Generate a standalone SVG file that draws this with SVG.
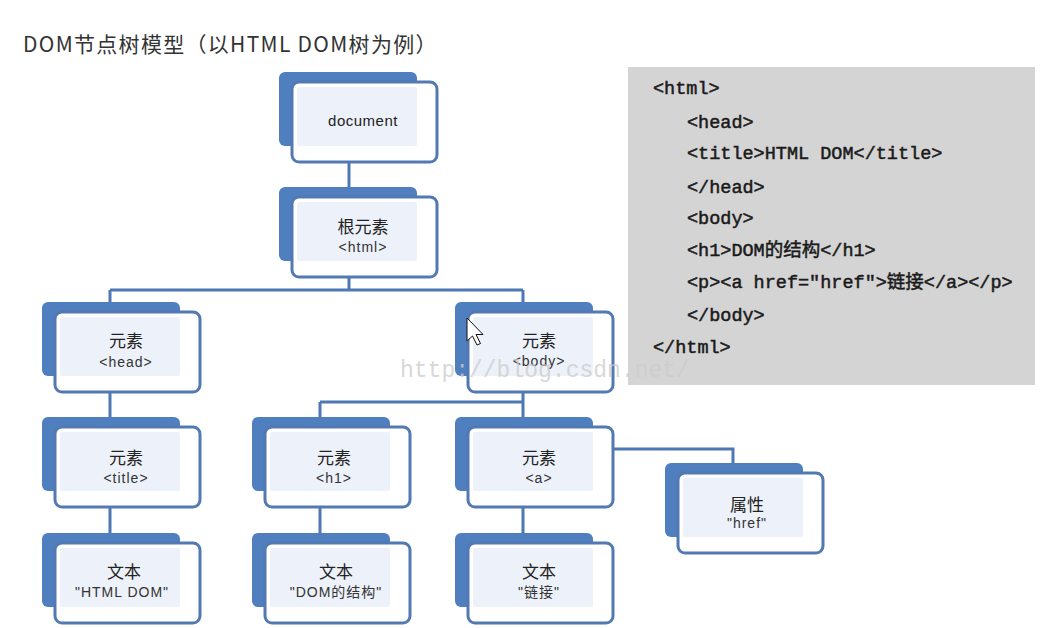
<svg xmlns="http://www.w3.org/2000/svg" width="1060" height="628" viewBox="0 0 1060 628">
<style>
.back{fill:#4f7fbe}
.front{fill:#ffffff;stroke:#5279b2;stroke-width:3}
.inner{fill:#edf1f9}
.conn{fill:none;stroke:#4e78b3;stroke-width:3}
.t1{font-family:"Noto Sans CJK SC","Liberation Sans",sans-serif;font-size:17px;fill:#222;text-anchor:middle}
.t2{font-family:"Liberation Sans","Noto Sans CJK SC",sans-serif;font-size:14px;letter-spacing:1px;fill:#333;text-anchor:middle}
.code{font-family:"Liberation Mono","Noto Sans CJK SC",monospace;font-size:18.5px;fill:#1a1a1a;stroke:#1a1a1a;stroke-width:0.5}
</style>
<defs>
<g id="box">
<rect class="back" x="0" y="0" width="138" height="74" rx="6"/>
<rect class="front" x="13" y="10" width="145" height="80" rx="7"/>
<rect class="inner" x="18" y="15" width="120" height="59" rx="2"/>
</g>
</defs>
<rect width="1060" height="628" fill="#ffffff"/>
<text x="23" y="52" font-family="Noto Sans CJK SC,Liberation Sans,sans-serif" font-size="21" letter-spacing="1.3" fill="#333">DOM节点树模型（以HTML DOM树为例）</text>

<g id="code-panel">
<rect x="628" y="67" width="407" height="318" fill="#d4d4d4"/>
<text class="code" x="653" y="94">&lt;html&gt;</text>
<text class="code" x="687" y="128">&lt;head&gt;</text>
<text class="code" x="687" y="159">&lt;title&gt;HTML DOM&lt;/title&gt;</text>
<text class="code" x="687" y="193">&lt;/head&gt;</text>
<text class="code" x="687" y="224">&lt;body&gt;</text>
<text class="code" x="687" y="256">&lt;h1&gt;DOM的结构&lt;/h1&gt;</text>
<text class="code" x="687" y="288">&lt;p&gt;&lt;a href="href"&gt;链接&lt;/a&gt;&lt;/p&gt;</text>
<text class="code" x="687" y="321">&lt;/body&gt;</text>
<text class="code" x="653" y="353">&lt;/html&gt;</text>
</g>

<g id="connectors">
<path class="conn" d="M349 162 V187"/>
<path class="conn" d="M349 277 V290 M110 290 H523 M110 290 V302 M523 290 V302"/>
<path class="conn" d="M110 392 V417"/>
<path class="conn" d="M523 392 V417 M320 402 H523 M320 402 V417"/>
<path class="conn" d="M612 449 H733 V463"/>
<path class="conn" d="M110 507 V533 M320 507 V533 M523 507 V533"/>
</g>

<g id="n-document" transform="translate(279,72)"><use href="#box"/><text class="t1" x="84" y="54" style="font-family:'Liberation Sans',sans-serif;font-size:15px;letter-spacing:0.5px">document</text></g>
<g id="n-html" transform="translate(279,187)"><use href="#box"/><text class="t1" x="84" y="46">根元素</text><text class="t2" x="84" y="65">&lt;html&gt;</text></g>
<g id="n-head" transform="translate(42,302)"><use href="#box"/><text class="t1" x="84" y="45">元素</text><text class="t2" x="84" y="65">&lt;head&gt;</text></g>
<g id="n-body" transform="translate(455,302)"><use href="#box"/><text class="t1" x="84" y="45">元素</text><text class="t2" x="84" y="64">&lt;body&gt;</text></g>
<g id="n-title" transform="translate(42,417)"><use href="#box"/><text class="t1" x="84" y="47">元素</text><text class="t2" x="84" y="66">&lt;title&gt;</text></g>
<g id="n-h1" transform="translate(252,417)"><use href="#box"/><text class="t1" x="82" y="47">元素</text><text class="t2" x="82" y="66">&lt;h1&gt;</text></g>
<g id="n-a" transform="translate(455,417)"><use href="#box"/><text class="t1" x="84" y="47">元素</text><text class="t2" x="84" y="66">&lt;a&gt;</text></g>
<g id="n-attr" transform="translate(665,463)"><use href="#box"/><text class="t1" x="82" y="48">属性</text><text class="t2" x="82" y="65">"href"</text></g>
<g id="n-text1" transform="translate(42,533)"><use href="#box"/><text class="t1" x="82" y="45">文本</text><text class="t2" x="80" y="64">"HTML DOM"</text></g>
<g id="n-text2" transform="translate(252,533)"><use href="#box"/><text class="t1" x="84" y="45">文本</text><text class="t2" x="84" y="64">"DOM的结构"</text></g>
<g id="n-text3" transform="translate(455,533)"><use href="#box"/><text class="t1" x="84" y="45">文本</text><text class="t2" x="84" y="64">"链接"</text></g>

<path d="M467 318 V341 L472.5 336 L477 345 L480.5 343.5 L476 334.5 L483 334.5 Z" fill="#ffffff" stroke="#111" stroke-width="1"/>
<text x="400" y="377" font-family="Liberation Mono,monospace" font-size="23" fill="#cccccc" opacity="0.75">http://blog.csdn.net/</text>
</svg>
